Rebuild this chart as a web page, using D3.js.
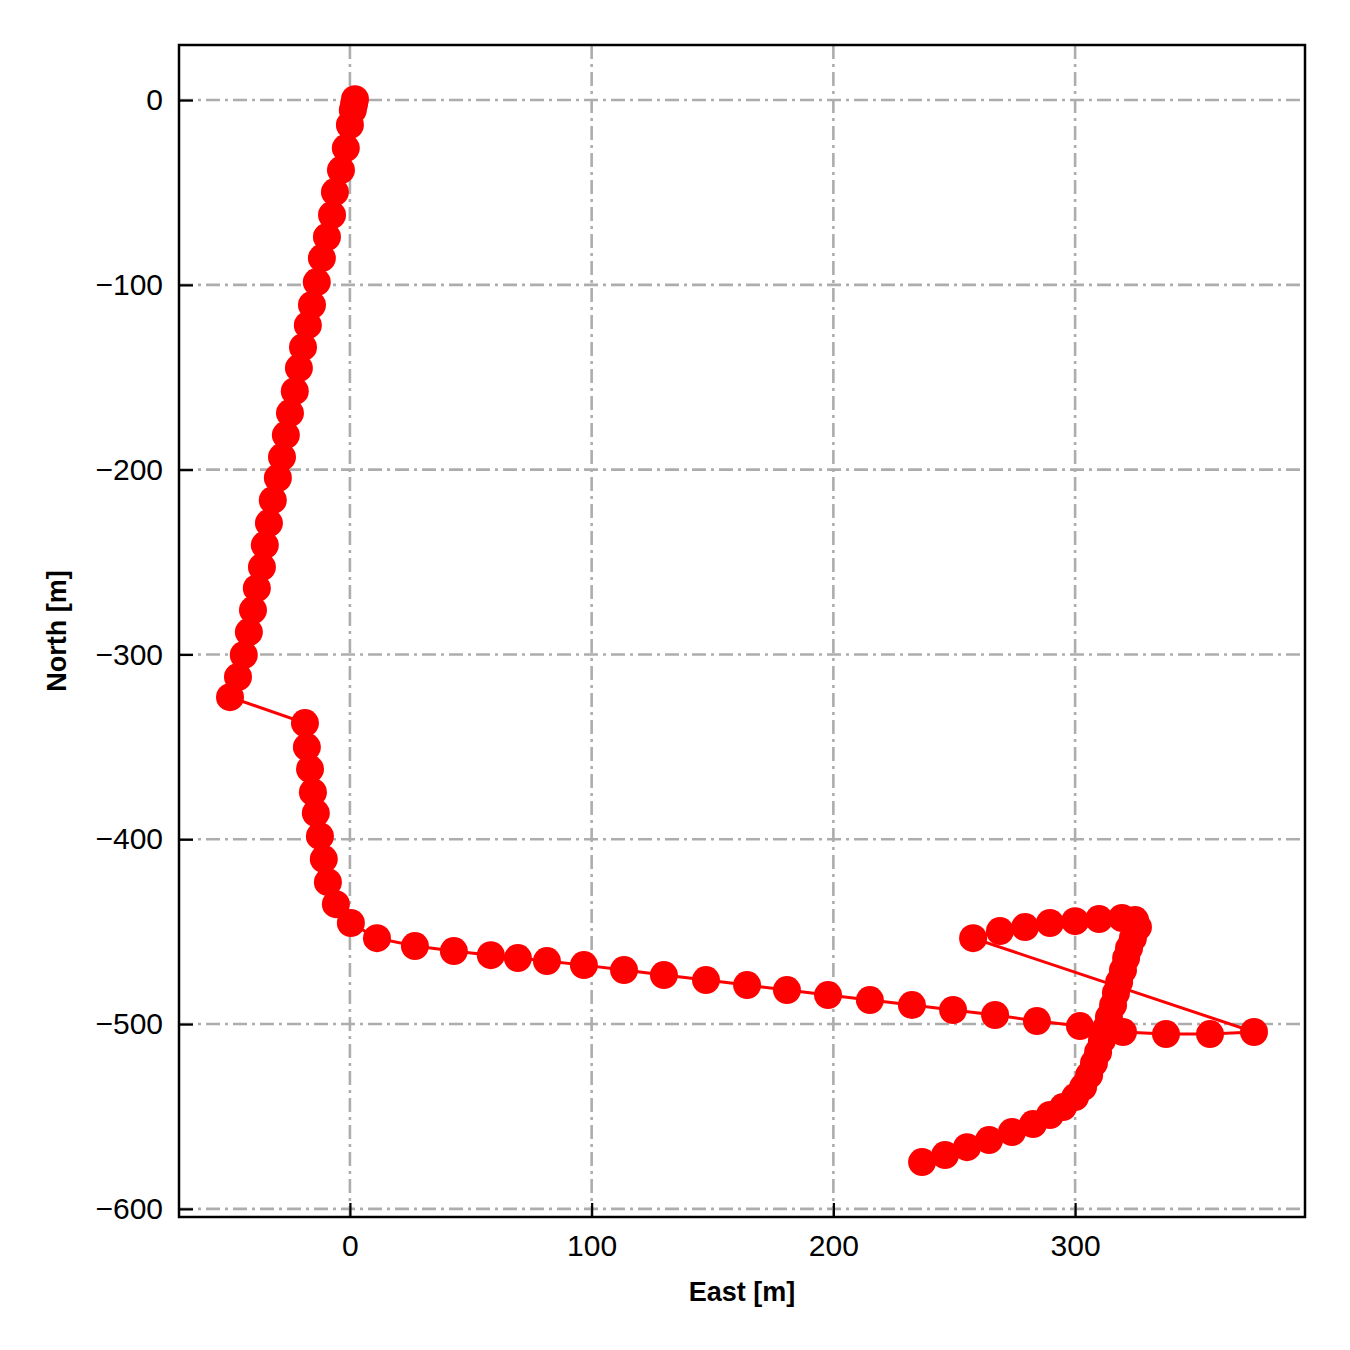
<!DOCTYPE html>
<html>
<head>
<meta charset="utf-8">
<script src="https://cdn.jsdelivr.net/npm/d3@7"></script>
<style>
  body { margin: 0; background: #fff; }
  svg { font-family: "Liberation Sans", Arial, sans-serif; }
</style>
</head>
<body>
<div id="chart"></div>
<script>
// Track positions (one continuous path, in order)
const east = [
  2.1, 1.7, 1.2, 0.0, -1.7, -3.7, -6.2, -7.4, -9.5, -11.6, -13.7, -15.7, -17.4, -19.4, -21.1,
  -22.8, -24.8, -26.5, -28.1, -29.8, -31.9, -33.5, -35.2, -36.4, -38.5, -40.1, -41.8, -43.9, -46.3, -49.6,
  -18.6, -17.8, -16.5, -15.3, -14.1, -12.4, -10.8, -9.1, -5.8, 0.4, 11.2, 26.9, 43.0, 58.3, 69.5,
  81.5, 96.8, 113.4, 129.9, 147.3, 164.3, 180.8, 197.8, 215.1, 232.5, 249.5, 266.9, 284.2, 302.0, 319.8,
  337.6, 355.8, 374.0,
  257.8, 268.9, 279.3, 289.6, 300.0, 309.9, 319.4, 324.8, 326.0,
  323.9, 322.3, 321.1, 319.8, 318.2, 316.9, 315.7, 314.0, 312.8, 311.1, 309.5, 307.8, 305.8, 303.3, 300.0,
  295.0, 289.6, 282.6, 273.9, 264.4, 255.3, 246.2, 236.7
];
const north = [
  0.5, -2.2, -5.4, -13.5, -26.0, -37.9, -49.8, -62.2, -74.1, -85.5, -98.5, -110.9, -121.8, -133.7, -145.0,
  -157.5, -169.4, -181.3, -193.2, -204.5, -216.5, -228.9, -240.8, -252.7, -264.1, -276.0, -287.9, -300.3, -312.2, -323.1,
  -337.1, -350.1, -362.0, -374.5, -385.8, -398.3, -410.7, -423.2, -435.1, -445.3, -453.5, -457.8, -460.5, -462.7, -464.3,
  -465.9, -468.1, -470.8, -473.5, -476.2, -478.9, -481.6, -484.3, -487.0, -489.7, -492.4, -495.1, -498.4, -501.1, -504.3,
  -505.4, -505.4, -504.3,
  -453.5, -449.7, -447.5, -445.3, -444.3, -443.2, -442.6, -443.7, -447.5,
  -453.5, -458.9, -464.3, -470.8, -477.3, -483.2, -489.7, -496.2, -502.2, -508.7, -515.2, -521.1, -527.6, -534.1, -539.5,
  -544.9, -549.2, -554.1, -558.4, -562.8, -566.6, -570.9, -574.7
];
const xTicks = [0, 100, 200, 300];
const yTicks = [0, -100, -200, -300, -400, -500, -600];

const data = east.map((e, i) => ({ e: e, n: north[i] }));

const W = 1350, H = 1350;
const plot = { left: 179, right: 1305, top: 45, bottom: 1217 };

const svg = d3.select('#chart')
    .append('svg')
    .attr('width', W)
    .attr('height', H);

const x = d3.scaleLinear().domain([-70.7, 395.1]).range([plot.left, plot.right]);
const y = d3.scaleLinear().domain([-604.4, 29.8]).range([plot.bottom, plot.top]);

// Grid lines (dash-dot)
const grid = svg.append('g');
grid.selectAll('.vgrid')
    .data(xTicks)
    .enter()
    .append('line')
    .attr('x1', d => x(d)).attr('x2', d => x(d))
    .attr('y1', plot.top).attr('y2', plot.bottom)
    .attr('stroke', '#adadad')
    .attr('stroke-width', 2.6)
    .attr('stroke-dasharray', '14,5,3,5');
grid.selectAll('.hgrid')
    .data(yTicks)
    .enter()
    .append('line')
    .attr('y1', d => y(d)).attr('y2', d => y(d))
    .attr('x1', plot.left).attr('x2', plot.right)
    .attr('stroke', '#adadad')
    .attr('stroke-width', 2.6)
    .attr('stroke-dasharray', '14,5,3,5');

// Track line and markers
const line = d3.line().x(d => x(d.e)).y(d => y(d.n));
svg.append('path')
    .datum(data)
    .attr('d', line)
    .attr('fill', 'none')
    .attr('stroke', '#ff0000')
    .attr('stroke-width', 3);

svg.selectAll('.dot')
    .data(data)
    .enter()
    .append('circle')
    .attr('class', 'dot')
    .attr('cx', d => x(d.e))
    .attr('cy', d => y(d.n))
    .attr('r', 14)
    .attr('fill', '#ff0000');

// Axes with inward ticks
const xAxis = d3.axisBottom(x).tickValues(xTicks).tickSizeInner(-14).tickSizeOuter(0).tickPadding(18);
const yAxis = d3.axisLeft(y).tickValues(yTicks).tickSizeInner(-14).tickSizeOuter(0).tickPadding(16)
    .tickFormat(d => d < 0 ? '\u2212' + Math.abs(d) : d);

const gx = svg.append('g')
    .attr('transform', `translate(0,${plot.bottom})`)
    .call(xAxis);
const gy = svg.append('g')
    .attr('transform', `translate(${plot.left},0)`)
    .call(yAxis);

[gx, gy].forEach(g => {
    g.select('.domain').remove();
    g.selectAll('.tick line').attr('stroke', '#000').attr('stroke-width', 2.2);
    g.selectAll('.tick text')
        .attr('fill', '#000')
        .style('font-size', '30px')
        .style('font-family', '"Liberation Sans", Arial, sans-serif');
});
gx.selectAll('.tick text').attr('dy', '0.71em');

// Frame
svg.append('rect')
    .attr('x', plot.left).attr('y', plot.top)
    .attr('width', plot.right - plot.left)
    .attr('height', plot.bottom - plot.top)
    .attr('fill', 'none')
    .attr('stroke', '#000')
    .attr('stroke-width', 2.5);

// Axis labels
svg.append('text')
    .attr('x', (plot.left + plot.right) / 2)
    .attr('y', 1301)
    .attr('text-anchor', 'middle')
    .style('font-size', '27px')
    .style('font-weight', 'bold')
    .text('East [m]');

svg.append('text')
    .attr('transform', `translate(66,${(plot.top + plot.bottom) / 2}) rotate(-90)`)
    .attr('text-anchor', 'middle')
    .style('font-size', '27px')
    .style('font-weight', 'bold')
    .text('North [m]');
</script>
</body>
</html>
